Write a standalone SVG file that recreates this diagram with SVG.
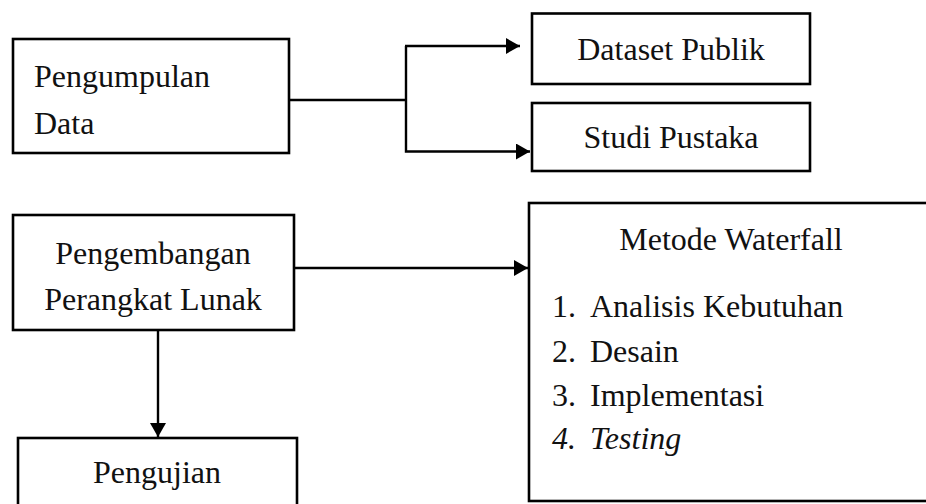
<svg xmlns="http://www.w3.org/2000/svg" width="926" height="504" viewBox="0 0 926 504">
<style>
.box{fill:#fff;stroke:#000;stroke-width:2.6}
text{font-family:'Liberation Serif','Times New Roman',Tinos,'DejaVu Serif',serif;font-size:32px;fill:#111}
.c{text-anchor:middle}
.ln{fill:none;stroke:#000;stroke-width:2.4}
</style>
<defs>
<marker id="ah" markerWidth="14" markerHeight="16" refX="14" refY="8" orient="auto" markerUnits="userSpaceOnUse">
<path d="M0,0 L14,8 L0,16 Z" fill="#000"/>
</marker>
</defs>
<rect width="926" height="504" fill="#fff"/>
<g id="connectors">
<line class="ln" x1="289" y1="100" x2="406" y2="100"/>
<polyline class="ln" points="406,46 406,151.5 530,151.5" marker-end="url(#ah)"/>
<line class="ln" x1="405" y1="46" x2="520" y2="46" marker-end="url(#ah)"/>
<line class="ln" x1="294" y1="268" x2="528" y2="268" marker-end="url(#ah)"/>
<line class="ln" x1="158" y1="330" x2="158" y2="437" marker-end="url(#ah)"/>
</g>
<g id="pengumpulan">
<rect class="box" x="13" y="39" width="276" height="114"/>
<text font-family="Liberation Serif, serif" x="34" y="87">Pengumpulan</text>
<text font-family="Liberation Serif, serif" x="34" y="134">Data</text>
</g>
<g id="dataset">
<rect class="box" x="532" y="13.5" width="278" height="70.5"/>
<text class="c" x="671" y="60">Dataset Publik</text>
</g>
<g id="studi">
<rect class="box" x="532" y="103" width="278" height="68"/>
<text class="c" x="671" y="148">Studi Pustaka</text>
</g>
<g id="pengembangan">
<rect class="box" x="13" y="215" width="281" height="115"/>
<text class="c" x="153" y="264">Pengembangan</text>
<text class="c" x="153" y="310">Perangkat Lunak</text>
</g>
<g id="pengujian">
<rect class="box" x="18" y="438" width="279" height="80"/>
<text class="c" x="157" y="483">Pengujian</text>
</g>
<g id="waterfall">
<rect class="box" x="529" y="203" width="400" height="298"/>
<text class="c" x="731" y="250">Metode Waterfall</text>
<text x="552" y="317">1.</text><text x="590" y="317">Analisis Kebutuhan</text>
<text x="552" y="362">2.</text><text x="590" y="362">Desain</text>
<text x="552" y="406">3.</text><text x="590" y="406">Implementasi</text>
<text x="552" y="449" font-style="italic">4.</text><text x="590" y="449" font-style="italic">Testing</text>
</g>
</svg>
